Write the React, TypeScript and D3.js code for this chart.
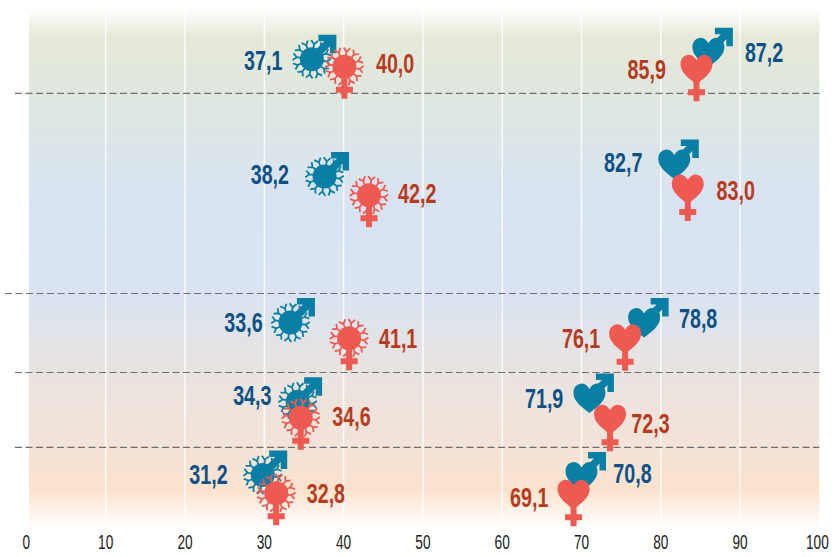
import React from "react";
import * as d3 from "d3";

// Printed values
const maleIllness = ["37,1", "38,2", "33,6", "34,3", "31,2"];
const femaleIllness = ["40,0", "42,2", "41,1", "34,6", "32,8"];
const maleHealthy = ["87,2", "82,7", "78,8", "71,9", "70,8"];
const femaleHealthy = ["85,9", "83,0", "76,1", "72,3", "69,1"];

// Positions
const maleIllnessX = [36.0, 37.6, 33.3, 34.2, 29.8];
const femaleIllnessX = [40.1, 43.2, 40.7, 34.6, 31.5];
const maleHealthyX = [86.0, 81.7, 77.9, 71.0, 70.0];
const femaleHealthyX = [84.5, 83.4, 75.5, 73.6, 69.0];

// Vertical positions, in percent of the plot's height from the top
const maleIllnessY = [9.87, 32.4, 60.5, 75.7, 89.8];
const femaleIllnessY = [11.3, 36, 63.5, 78.8, 93.3];
const maleHealthyY = [8.5, 30, 60.5, 75, 90.1];
const femaleHealthyY = [11.8, 34.8, 63.6, 79.1, 93.5];

const dividers = [16.4, 54.9, 70.1, 84.5];
const dividerStart = [15, 5, 15, 15];

const W = 838;
const H = 557;
const BLUE = "#0a7fa6";
const RED = "#ee5a52";
const LABEL_BLUE = "#0b5188";
const LABEL_RED = "#b83a1c";
const FONT = "'Liberation Sans', sans-serif";

const x = d3.scaleLinear().domain([0, 100]).range([26.4, 819.4]);
const y = d3.scaleLinear().domain([0, 100]).range([8, 528]);

const bgStops: [number, string][] = [
  [0, "#ffffff"],
  [0.055, "#e6e9d8"],
  [0.16, "#dfe7df"],
  [0.37, "#d8e3f2"],
  [0.55, "#d9e3f1"],
  [0.7, "#e9e3e0"],
  [0.84, "#f3e3d8"],
  [0.925, "#fbe2cd"],
  [1, "#ffffff"],
];

const HEART =
  "M0,15 C-7,9.5 -16,3.5 -16,-5 C-16,-11 -12,-14.5 -7.5,-14.5 C-4,-14.5 -1.5,-12 0,-9 C1.5,-12 4,-14.5 7.5,-14.5 C12,-14.5 16,-11 16,-5 C16,3.5 7,9.5 0,15 Z";
const ARROW =
  "M6.5,-24.5 L24.5,-24.5 L24.5,-6 L18,-6 L18,-13 L3,3 L-3,-3 L12.5,-18 L6.5,-18 Z";
const CROSS = "M-3,0 L3,0 L3,20 L8.5,20 L8.5,26 L3,26 L3,32 L-3,32 L-3,26 L-8.5,26 L-8.5,20 L-3,20 Z";

const spikeAngles = d3.range(12).map((i) => (i * 360) / 12 + 8);

function Snow({ color }: { color: string }) {
  return (
    <g>
      {spikeAngles.map((a) => (
        <g key={a} transform={`rotate(${a})`} stroke={color} strokeWidth={1.8} fill="none">
          <path d="M0,-11 L0,-15.5 M0,-15.2 L-3.4,-19 M0,-15.2 L3.4,-19" />
        </g>
      ))}
      <circle r={12} fill={color} />
    </g>
  );
}

function Marker({ kind, male, px, py }: { kind: "snow" | "heart"; male: boolean; px: number; py: number }) {
  const color = male ? BLUE : RED;
  return (
    <g transform={`translate(${px},${py})`}>
      {male ? <path d={ARROW} fill={color} /> : <path d={CROSS} fill={color} />}
      {kind === "snow" ? <Snow color={color} /> : <path d={HEART} fill={color} />}
    </g>
  );
}

const nudge = {
  maleIllness: { dx: [-48.7, -54.7, -47, -45.3, -54.3], dy: [10.7, 7.3, 9, 3.3, 9] },
  femaleIllness: { dx: [50.7, 48.3, 49, 50.7, 49.7], dy: [6, 7.7, 9.7, 8.7, 9.7] },
  maleHealthy: { dx: [55.7, -51, 54, -45.3, 51], dy: [9.7, 8, 5.3, 9.7, 6.3] },
  femaleHealthy: { dx: [-49.7, 48, -44, 40.4, -44.3], dy: [9.7, 11, 9, 13.7, 12.7] },
};

const groups = [
  { kind: "snow" as const, male: true, labels: maleIllness, xs: maleIllnessX, ys: maleIllnessY, n: nudge.maleIllness },
  { kind: "heart" as const, male: true, labels: maleHealthy, xs: maleHealthyX, ys: maleHealthyY, n: nudge.maleHealthy },
  { kind: "snow" as const, male: false, labels: femaleIllness, xs: femaleIllnessX, ys: femaleIllnessY, n: nudge.femaleIllness },
  { kind: "heart" as const, male: false, labels: femaleHealthy, xs: femaleHealthyX, ys: femaleHealthyY, n: nudge.femaleHealthy },
];

export default function App() {
  return (
    <svg width={W} height={H} style={{ position: "absolute", left: 0, top: 0, background: "#fff" }} fontFamily={FONT}>
      <defs>
        <linearGradient id="bg" x1="0" y1="0" x2="0" y2="1">
          {bgStops.map(([o, c]) => (
            <stop key={o} offset={o} stopColor={c} />
          ))}
        </linearGradient>
      </defs>
      <rect x={29} y={y(0)} width={x(100) - 29} height={y(100) - y(0)} fill="url(#bg)" />
      {x.ticks(10).filter((t) => t > 0 && t < 100).map((t) => (
        <line key={t} x1={x(t)} x2={x(t)} y1={y(0)} y2={y(100)} stroke="#fff" strokeWidth={1.5} strokeOpacity={0.85} />
      ))}
      {dividers.map((d, i) => (
        <line key={d} x1={dividerStart[i]} x2={x(100)} y1={y(d)} y2={y(d)} stroke="#6f6f6f" strokeWidth={1.2} strokeDasharray="7 3.5" />
      ))}
      {x.ticks(10).map((t) => (
        <text
          key={t}
          transform={`translate(${x(t) - (t === 100 ? 2 : 0)},549) scale(0.7,1)`}
          textAnchor="middle"
          fontSize={19.5}
          fill="#222"
        >
          {t}
        </text>
      ))}
      {groups.map((g) =>
        g.xs.map((v, i) => <Marker key={`${g.kind}${g.male}${i}`} kind={g.kind} male={g.male} px={x(v)} py={y(g.ys[i])} />)
      )}
      {groups.map((g) =>
        g.labels.map((l, i) => (
          <text
            key={`${g.kind}${g.male}${i}t`}
            transform={`translate(${x(g.xs[i]) + g.n.dx[i]},${y(g.ys[i]) + g.n.dy[i]}) scale(0.73,1)`}
            textAnchor="middle"
            fontSize={27}
            fontWeight={700}
            fill={g.male ? LABEL_BLUE : LABEL_RED}
          >
            {l}
          </text>
        ))
      )}
    </svg>
  );
}
